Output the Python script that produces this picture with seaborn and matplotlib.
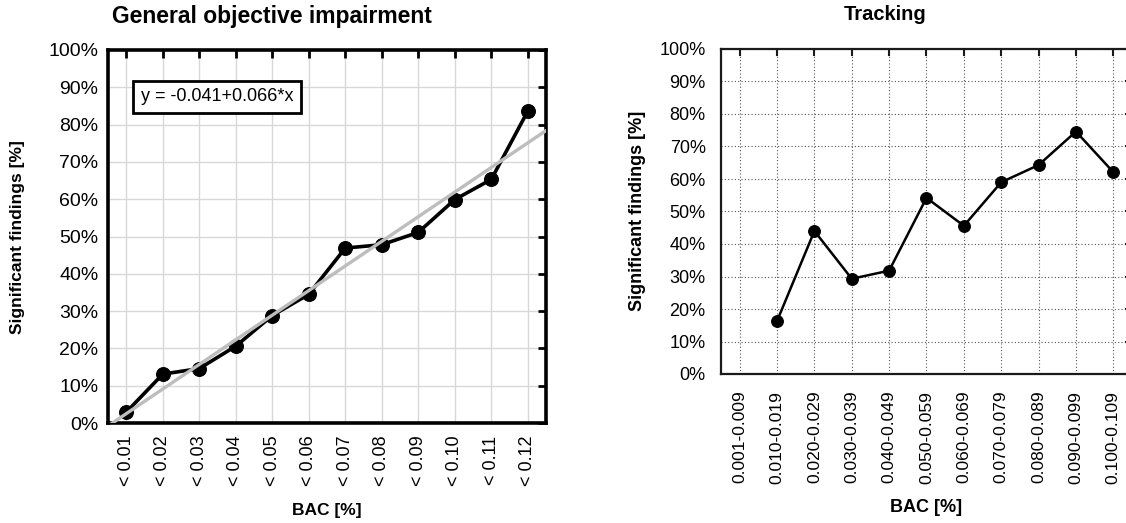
import numpy as np
import pandas as pd
import matplotlib
matplotlib.use("Agg")
import matplotlib.pyplot as plt
import seaborn as sns

# General objective impairment (cumulative BAC classes)
gen_labels = ["< 0.01", "< 0.02", "< 0.03", "< 0.04", "< 0.05", "< 0.06",
              "< 0.07", "< 0.08", "< 0.09", "< 0.10", "< 0.11", "< 0.12"]
gen_values = [2.9, 13.1, 14.6, 20.6, 28.8, 34.5, 46.9, 47.8, 51.1, 59.9, 65.3, 83.6]
fit_intercept = -0.041
fit_slope = 0.066

# Tracking (BAC interval classes)
trk_labels = ["0.001-0.009", "0.010-0.019", "0.020-0.029", "0.030-0.039",
              "0.040-0.049", "0.050-0.059", "0.060-0.069", "0.070-0.079",
              "0.080-0.089", "0.090-0.099", "0.100-0.109"]
trk_values = [np.nan, 16.3, 44.0, 29.3, 31.8, 54.2, 45.6, 59.0, 64.3, 74.6, 62.1]

y_ticks = list(range(0, 101, 10))

sns.set_style("white")
plt.rcParams["font.family"] = ["Liberation Sans", "DejaVu Sans"]
plt.rcParams["text.color"] = "black"
plt.rcParams["xtick.color"] = "black"
plt.rcParams["ytick.color"] = "black"

W, H = 1126, 523
fig = plt.figure(figsize=(W / 100, H / 100), dpi=100)
fig.patch.set_facecolor("white")


def px_axes(x0, y0, x1, y1):
    return fig.add_axes([x0 / W, 1 - y1 / H, (x1 - x0) / W, (y1 - y0) / H])


# ---------- left panel ----------
ax1 = px_axes(108, 50, 546, 423)
gen_df = pd.DataFrame({"pos": np.arange(len(gen_labels)), "pct": gen_values})
sns.lineplot(data=gen_df, x="pos", y="pct", ax=ax1, color="black", lw=2.6,
             marker="o", markersize=10, markeredgecolor="black", zorder=3)
xf = np.linspace(-0.5, len(gen_labels) - 0.5, 50)
yf = (fit_intercept + fit_slope * (xf + 1)) * 100
ax1.plot(xf, yf, color="#bdbdbd", lw=2.4, zorder=4)

ax1.set_xlim(-0.5, len(gen_labels) - 0.5)
ax1.set_ylim(0, 100)
ax1.set_xticks(np.arange(len(gen_labels)))
ax1.set_xticklabels(gen_labels, rotation=90, fontsize=13)
ax1.set_yticks(y_ticks)
ax1.set_yticklabels([f"{v}%" for v in y_ticks], fontsize=14)
ax1.set_xlabel("")
ax1.set_ylabel("")
ax1.grid(True, color="#d8d8d8", lw=1.0, zorder=0)
ax1.set_axisbelow(True)
for s in ax1.spines.values():
    s.set_visible(True)
    s.set_color("black")
    s.set_linewidth(2.6)
ax1.tick_params(axis="both", direction="in", length=6, width=2,
                top=True, right=True, color="black")
ax1.tick_params(axis="x", pad=9)
ax1.tick_params(axis="y", pad=7)
ax1.text(0.075, 0.875, "y = -0.041+0.066*x", transform=ax1.transAxes,
         fontsize=13, va="center", ha="left",
         bbox=dict(boxstyle="square,pad=0.42", fc="white", ec="black", lw=2))

fig.text(272 / W, 1 - 17 / H, "General objective impairment", fontsize=16.5,
         fontweight="bold", ha="center", va="center")
fig.text(18 / W, 1 - 237 / H, "Significant findings [%]", fontsize=12.5,
         fontweight="bold", rotation=90, ha="center", va="center")
fig.text(327 / W, 1 - 510 / H, "BAC [%]", fontsize=12.5, fontweight="bold",
         ha="center", va="center")

# ---------- right panel ----------
ax2 = px_axes(721, 49, 1132, 374)
trk_df = pd.DataFrame({"pos": np.arange(len(trk_labels)), "pct": trk_values})
sns.lineplot(data=trk_df.dropna(), x="pos", y="pct", ax=ax2, color="black",
             lw=1.8, marker="o", markersize=8.5, markeredgecolor="black",
             zorder=3)
ax2.set_xlim(-0.5, len(trk_labels) - 0.5)
ax2.set_ylim(0, 100)
ax2.set_xticks(np.arange(len(trk_labels)))
ax2.set_xticklabels(trk_labels, rotation=90, fontsize=12.5)
ax2.set_yticks(y_ticks)
ax2.set_yticklabels([f"{v}%" for v in y_ticks], fontsize=13)
ax2.set_xlabel("")
ax2.set_ylabel("")
ax2.grid(True, color="#555555", lw=0.8, ls=(0, (1, 2)), zorder=0)
ax2.set_axisbelow(True)
for s in ax2.spines.values():
    s.set_visible(True)
    s.set_color("#1a1a1a")
    s.set_linewidth(1.6)
ax2.tick_params(axis="both", direction="in", length=5, width=1.5,
                top=True, right=True, color="#1a1a1a")
ax2.tick_params(axis="x", pad=12)
ax2.tick_params(axis="y", pad=11)

fig.text(885 / W, 1 - 14 / H, "Tracking", fontsize=14.5, fontweight="bold",
         ha="center", va="center")
fig.text(638 / W, 1 - 211 / H, "Significant findings [%]", fontsize=13,
         fontweight="bold", rotation=90, ha="center", va="center")
fig.text(926 / W, 1 - 508 / H, "BAC [%]", fontsize=13, fontweight="bold",
         ha="center", va="center")

fig.savefig("out.png", dpi=100, facecolor="white")
